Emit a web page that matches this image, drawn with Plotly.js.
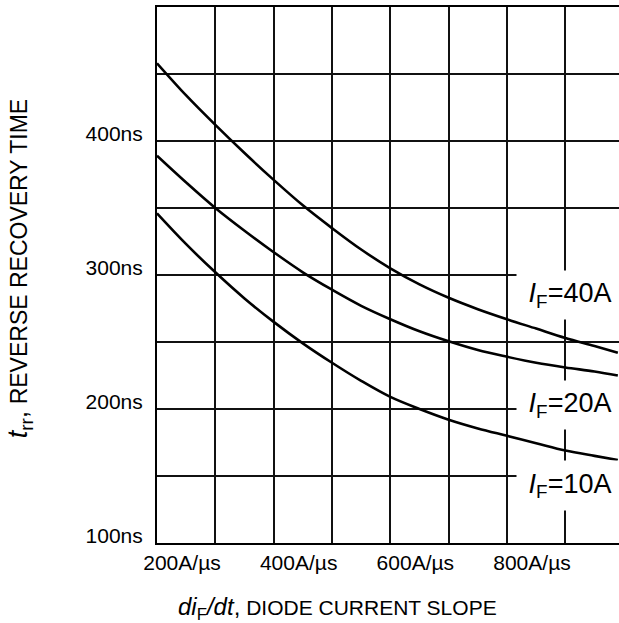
<!DOCTYPE html>
<html>
<head>
<meta charset="utf-8">
<script src="https://cdn.plot.ly/plotly-3.0.1.min.js"></script>
<style>html,body{margin:0;padding:0;background:#fff;}#chart{width:619px;height:623px;}</style>
</head>
<body>
<div id="chart"></div>
<script>
// di/dt (A/us)
const slope = [200, 250, 300, 350, 400, 450, 500, 550, 600, 650, 700, 750, 800, 850, 900, 950, 990];
// trr (ns) for each forward current
const trr40A = [458, 434, 412, 391, 371, 352, 335, 319, 305, 293, 283, 274.5, 267, 260, 253, 247, 242];
const trr20A = [389, 369, 350, 333, 317, 302, 289, 277, 267, 258, 250.5, 244, 239, 234.5, 231, 228, 225];
const trr10A = [346, 323, 302, 282.5, 265, 249, 234.5, 221, 209, 200, 192, 185.5, 180, 174.5, 169, 165, 162];
const seriesNames = ['I_F=40A', 'I_F=20A', 'I_F=10A'];
const xTickVals = [200, 400, 600, 800];
const xTickText = ['200A/µs', '400A/µs', '600A/µs', '800A/µs'];
const yTickVals = [100, 200, 300, 400];
const yTickText = ['100ns', '200ns', '300ns', '400ns'];

const FONT = 'Liberation Sans, Arial, sans-serif';

// grid positions (every 100 A/us and every 50 ns); labels only where given above
const xGrid = [], yGrid = [];
for (let v = 200; v <= 900; v += 100) xGrid.push(v);
for (let v = 100; v <= 500; v += 50) yGrid.push(v);
const lbl = (grid, vals, txt) => grid.map(g => { const i = vals.indexOf(g); return i >= 0 ? txt[i] : ''; });

const lineStyle = {color: '#000', width: 2.6, shape: 'spline', smoothing: 1};
const mk = (y, name) => ({x: slope, y: y, name: name, mode: 'lines', line: lineStyle, hoverinfo: 'skip'});
const data = [mk(trr40A, seriesNames[0]), mk(trr20A, seriesNames[1]), mk(trr10A, seriesNames[2])];

const labelFont = {family: FONT, size: 27, color: '#000'};
const lab = (txt, y, h) => ({
  x: 907.5, y: y, xref: 'x', yref: 'y', text: txt, showarrow: false,
  xanchor: 'center', yanchor: 'middle', width: 104, height: h,
  bgcolor: '#fff', font: labelFont
});

const layout = {
  width: 619, height: 623,
  margin: {l: 157, r: 0, t: 7, b: 80, pad: 0},
  paper_bgcolor: '#fff', plot_bgcolor: '#fff',
  showlegend: false, hovermode: false, dragmode: false,
  font: {family: FONT, size: 21, color: '#000'},
  xaxis: {
    range: [200, 992], tickmode: 'array', tickvals: xGrid, ticktext: lbl(xGrid, xTickVals, xTickText),
    showgrid: true, gridcolor: '#111', gridwidth: 2,
    showline: true, linecolor: '#000', linewidth: 2, mirror: true,
    ticks: '', ticklabelshift: 25, ticklabelstandoff: 0,
    tickfont: {family: FONT, size: 21, color: '#000'}, zeroline: false, fixedrange: true
  },
  yaxis: {
    range: [100, 500], tickmode: 'array', tickvals: yGrid, ticktext: lbl(yGrid, yTickVals, yTickText),
    showgrid: true, gridcolor: '#111', gridwidth: 2,
    showline: true, linecolor: '#000', linewidth: 2,
    ticks: '', ticklabelshift: -7, ticklabelstandoff: 8,
    tickfont: {family: FONT, size: 21, color: '#000'}, zeroline: false, fixedrange: true
  },
  annotations: [
    lab('<i>I</i><sub>F</sub>=40A', 285, 46),
    lab('<i>I</i><sub>F</sub>=20A', 203, 46),
    lab('<i>I</i><sub>F</sub>=10A', 143, 47),
    {
      xref: 'paper', yref: 'paper', x: 0.042, y: -0.122, xanchor: 'left', yanchor: 'middle',
      showarrow: false, font: {family: FONT, size: 21, color: '#000'},
      text: '<span style="font-size:24px"><i>di</i><sub>F</sub><i>/dt</i>,</span> DIODE CURRENT SLOPE'
    },
    {
      xref: 'paper', yref: 'paper', x: -0.297, y: 0.512, xanchor: 'center', yanchor: 'middle',
      textangle: -90, showarrow: false, font: {family: FONT, size: 23, color: '#000'},
      text: '<span style="font-size:27px"><i>t</i><sub>rr</sub>,</span> REVERSE RECOVERY TIME'
    }
  ]
};

Plotly.newPlot('chart', data, layout, {displayModeBar: false, responsive: false});
</script>
</body>
</html>
